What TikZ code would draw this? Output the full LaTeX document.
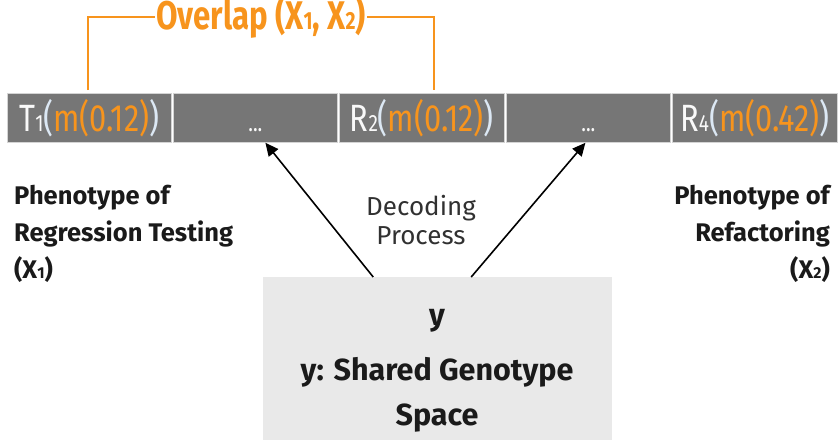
\documentclass[tikz,border=0pt]{standalone}
\usepackage{fontspec}
\setmainfont{Fira Sans}
\newfontfamily\condfont[FakeStretch=0.81]{Fira Sans}
\newfontfamily\ovfont[FakeStretch=0.78]{Fira Sans}
\usetikzlibrary{arrows.meta}
\definecolor{cellgray}{HTML}{767676}
\definecolor{celledge}{HTML}{D4D4D4}
\definecolor{orng}{HTML}{F7941D}
\definecolor{paren}{HTML}{DCE8F4}
\definecolor{boxgray}{HTML}{E9E9E9}
\definecolor{txt}{HTML}{1A1A1A}
\newcommand{\smalldig}[1]{{\fontsize{0.62\dimexpr\csname f@size\endcsname pt\relax}{0pt}\selectfont #1}}
\begin{document}
\begin{tikzpicture}[x=1pt,y=-1pt,
  cell/.style={fill=cellgray, draw=celledge, line width=0.8pt, minimum height=49pt,
    inner sep=0pt, anchor=north west, text=white!95!gray,
    font=\condfont\fontsize{38}{38}\selectfont},
  lbl/.style={inner sep=0pt, text=txt, font=\bfseries\fontsize{25.5}{37}\selectfont},
  boxtxt/.style={inner sep=0pt, anchor=base, text=txt, font=\bfseries\fontsize{30.5}{32}\selectfont},
  bracket/.style={draw=orng, line width=1.3pt},
  arr/.style={-{Triangle[length=13pt,width=12pt]}, line width=1.6pt, black}
]
\useasboundingbox (0,0) rectangle (840,442);

% cells
\node[cell, minimum width=164pt] (c1) at (7,93)
  {T\smalldig{1}\textcolor{paren}{(}\textcolor{orng}{m(0.12)}\textcolor{paren}{)}};
\node[cell, minimum width=164pt] (c2) at (173,93) {\vphantom{()}\fontsize{24}{24}\selectfont ...};
\node[cell, minimum width=165pt] (c3) at (339,93)
  {R\smalldig{2}\textcolor{paren}{(}\textcolor{orng}{m(0.12)}\textcolor{paren}{)}};
\node[cell, minimum width=164pt] (c4) at (506,93) {\vphantom{()}\fontsize{24}{24}\selectfont ...};
\node[cell, minimum width=165pt] (c5) at (672,93)
  {R\smalldig{4}\textcolor{paren}{(}\textcolor{orng}{m(0.42)}\textcolor{paren}{)}};

% overlap bracket
\node[inner sep=1pt, text=orng, font=\ovfont\bfseries\fontsize{40}{40}\selectfont]
  (ov) at (261,17) {Overlap (X\smalldig{1}, X\smalldig{2})};
\coordinate (bl) at (88,90);
\coordinate (br) at (434,90);
\draw[bracket] (bl) |- (ov.west);
\draw[bracket] (ov.east) -| (br);

% side labels
\node[lbl, anchor=north west, align=left] (left) at (14,185)
  {Phenotype of\\Regression Testing\\(X\smalldig{1})};
\node[lbl, anchor=north east, align=right] (right) at (830,185)
  {Phenotype of\\Refactoring\\(X\smalldig{2})};

% decoding label
\node[inner sep=0pt, text=txt!90!white, anchor=base, font=\fontsize{26}{29}\selectfont]
  (dec1) at (421,215) {Decoding};
\node[inner sep=0pt, text=txt!90!white, anchor=base, font=\fontsize{26}{29}\selectfont]
  (dec2) at (421,244) {Process};

% genotype box
\node[fill=boxgray, inner sep=0pt, minimum width=349pt, minimum height=163pt,
  anchor=north west] (box) at (263,277) {};
\node[boxtxt] (y) at (437,325) {y};
\node[boxtxt] (g1) at (437,380) {y: Shared Genotype};
\node[boxtxt] (g2) at (437,425) {Space};

% arrows
\draw[arr] ([xshift=-64.5pt]box.north) -- ([xshift=10pt]c2.south);
\draw[arr] ([xshift=33.5pt]box.north) -- ([xshift=-3pt]c4.south);
\end{tikzpicture}
\end{document}
